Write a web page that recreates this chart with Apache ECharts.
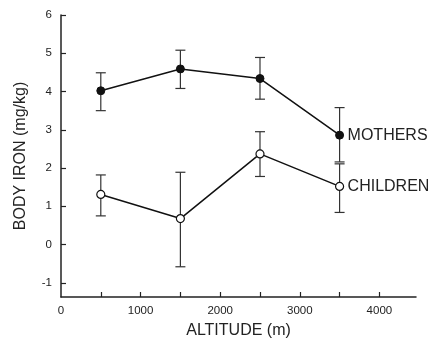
<!DOCTYPE html>
<html><head><meta charset="utf-8">
<script src="https://cdn.jsdelivr.net/npm/echarts@6/dist/echarts.min.js"></script>
<style>html,body{margin:0;padding:0;background:#fff}#c{width:433px;height:340px}</style>
</head><body><div id="c"></div>
<script>
var altitudes = [500, 1500, 2500, 3500];
var mothersMean = [4.02, 4.59, 4.34, 2.86];
var mothersLow = [3.50, 4.08, 3.80, 2.16];
var mothersHigh = [4.49, 5.08, 4.89, 3.58];
var childrenMean = [1.31, 0.68, 2.37, 1.52];
var childrenLow = [0.75, -0.58, 1.78, 0.84];
var childrenHigh = [1.82, 1.89, 2.95, 2.11];
var xTickValues = [500, 1000, 1500, 2000, 2500, 3000, 3500, 4000];
var xLabelValues = [0, 1000, 2000, 3000, 4000];
var yTickValues = [-1, 0, 1, 2, 3, 4, 5, 6];

var font = 'Liberation Sans, Arial, sans-serif';
function pairs(xs, ys){ return xs.map(function(x,i){return [x, ys[i]];}); }
function errData(xs, lo, hi){ return xs.map(function(x,i){return [x, lo[i], hi[i]];}); }
function errRender(params, api){
  var x = api.value(0);
  var lo = api.coord([x, api.value(1)]);
  var hi = api.coord([x, api.value(2)]);
  var hw = 5;
  var st = {stroke:'#333', lineWidth:1.2};
  return {type:'group', children:[
    {type:'line', shape:{x1:lo[0],y1:lo[1],x2:hi[0],y2:hi[1]}, style:st},
    {type:'line', shape:{x1:lo[0]-hw,y1:lo[1],x2:lo[0]+hw,y2:lo[1]}, style:st},
    {type:'line', shape:{x1:hi[0]-hw,y1:hi[1],x2:hi[0]+hw,y2:hi[1]}, style:st}
  ]};
}
var chart = echarts.init(document.getElementById('c'), null, {renderer:'canvas'});
chart.setOption({
  animation:false,
  backgroundColor:'#fff',
  grid:{left:61, right:17, top:15, bottom:43, containLabel:false, outerBoundsMode:'none'},
  xAxis:{
    type:'value', min:0, max:4460,
    name:'ALTITUDE (m)', nameLocation:'middle', nameGap:26,
    nameTextStyle:{fontFamily:font, fontSize:16, color:'#222'},
    axisLine:{show:true, onZero:false, lineStyle:{color:'#222', width:1.5}},
    axisTick:{show:true, inside:true, length:5, customValues:xTickValues, lineStyle:{color:'#222', width:1.2}},
    axisLabel:{customValues:xLabelValues, formatter:function(v){return String(v);}, fontFamily:font, fontSize:11.5, color:'#222', margin:8},
    splitLine:{show:false}
  },
  yAxis:{
    type:'value', min:-1.37, max:6,
    name:'BODY IRON (mg/kg)', nameLocation:'middle', nameGap:32, nameRotate:90,
    nameTextStyle:{fontFamily:font, fontSize:16, color:'#222'},
    axisLine:{show:true, onZero:false, lineStyle:{color:'#222', width:1.5}},
    axisTick:{show:true, inside:true, length:5, customValues:yTickValues, lineStyle:{color:'#222', width:1.2}},
    axisLabel:{customValues:yTickValues, formatter:function(v){return String(v);}, fontFamily:font, fontSize:11.5, color:'#222', margin:9},
    splitLine:{show:false}
  },
  series:[
    {type:'custom', renderItem:errRender, data:errData(altitudes, mothersLow, mothersHigh), z:1},
    {type:'custom', renderItem:errRender, data:errData(altitudes, childrenLow, childrenHigh), z:1},
    {type:'line', name:'MOTHERS', data:pairs(altitudes, mothersMean), symbol:'circle', symbolSize:8,
     lineStyle:{color:'#111', width:1.5}, itemStyle:{color:'#111', borderColor:'#111', borderWidth:1}, z:3,
     endLabel:{show:true, formatter:'MOTHERS', fontFamily:font, fontSize:16, color:'#222', distance:8}},
    {type:'line', name:'CHILDREN', data:pairs(altitudes, childrenMean), symbol:'circle', symbolSize:8,
     lineStyle:{color:'#111', width:1.5}, itemStyle:{color:'#fff', borderColor:'#111', borderWidth:1.2}, z:3,
     endLabel:{show:true, formatter:'CHILDREN', fontFamily:font, fontSize:16, color:'#222', distance:8}}
  ]
});
</script></body></html>
